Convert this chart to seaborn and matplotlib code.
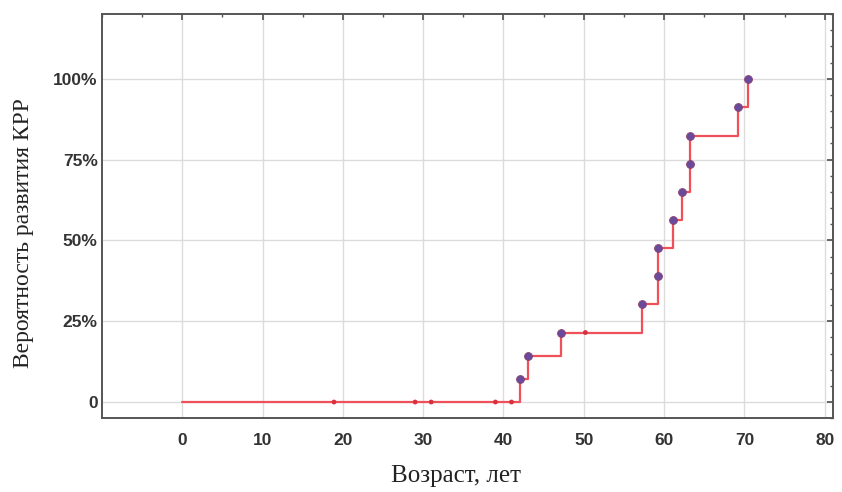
import matplotlib
matplotlib.use("Agg")
import matplotlib.pyplot as plt
import seaborn as sns
import pandas as pd
from matplotlib.ticker import FixedLocator, AutoMinorLocator

# Kaplan-Meier style cumulative probability (percent)
event_age = [42.1, 43.1, 47.2, 57.2, 59.2, 59.2, 61.1, 62.2, 63.2, 63.2, 69.2, 70.4]
event_prob = [7.1, 14.2, 21.5, 30.2, 38.9, 47.6, 56.4, 65.1, 73.7, 82.4, 91.1, 100.0]
censored_age = [18.9, 29.0, 31.0, 39.0, 41.0, 50.2]
censored_prob = [0, 0, 0, 0, 0, 21.5]

x_ticks = [0, 10, 20, 30, 40, 50, 60, 70, 80]
y_ticks = [0, 25, 50, 75, 100]
y_tick_labels = ["0", "25%", "50%", "75%", "100%"]

sns.set_theme(style="white")
plt.rcParams["font.family"] = ["Liberation Sans", "DejaVu Sans"]

step_df = pd.DataFrame({"age": [0] + event_age, "prob": [0] + event_prob})
ev_df = pd.DataFrame({"age": event_age, "prob": event_prob})
cens_df = pd.DataFrame({"age": censored_age, "prob": censored_prob})

fig = plt.figure(figsize=(8.42, 4.92), dpi=100)
ax = fig.add_axes([0.121, 0.150, 0.868, 0.8215])

sns.lineplot(data=step_df, x="age", y="prob", ax=ax, estimator=None, sort=False,
             drawstyle="steps-post", color="#f0505a", linewidth=1.6, zorder=3)
sns.scatterplot(data=cens_df, x="age", y="prob", ax=ax, marker="o", s=12,
                color="#d8303c", edgecolor="none", zorder=4)
sns.scatterplot(data=ev_df, x="age", y="prob", ax=ax, marker="o", s=32,
                color="#6a4a9c", edgecolor="#8a4070", linewidth=0.6, zorder=5)

ax.set_xlim(-10, 81)
ax.set_ylim(-5, 120)
ax.xaxis.set_major_locator(FixedLocator(x_ticks))
ax.yaxis.set_major_locator(FixedLocator(y_ticks))
ax.set_yticklabels(y_tick_labels)
ax.xaxis.set_minor_locator(AutoMinorLocator(2))
ax.yaxis.set_minor_locator(AutoMinorLocator(5))
ax.grid(True, which="major", color="#dcdcdc", linewidth=1.0)
ax.tick_params(which="both", direction="in", top=True, right=True, colors="#555555",
               labelcolor="#333333", labelsize=12.5)
ax.tick_params(which="major", length=4)
ax.tick_params(which="minor", length=2.5)
ax.tick_params(axis="x", pad=11)
ax.tick_params(axis="y", pad=3)
for s in ax.spines.values():
    s.set_color("#555555")
    s.set_linewidth(1.4)

ax.set_xlabel("Возраст, лет", family=["Liberation Serif", "DejaVu Serif"], fontsize=18,
              color="#222222")
ax.set_ylabel("Вероятность развития КРР", family=["Liberation Serif", "DejaVu Serif"],
              fontsize=17, color="#222222")
ax.xaxis.set_label_coords(0.484, -0.115)
ax.yaxis.set_label_coords(-0.093, 0.458)
for lbl in ax.get_xticklabels() + ax.get_yticklabels():
    lbl.set_fontweight("bold")

fig.savefig("out.png", dpi=100)
